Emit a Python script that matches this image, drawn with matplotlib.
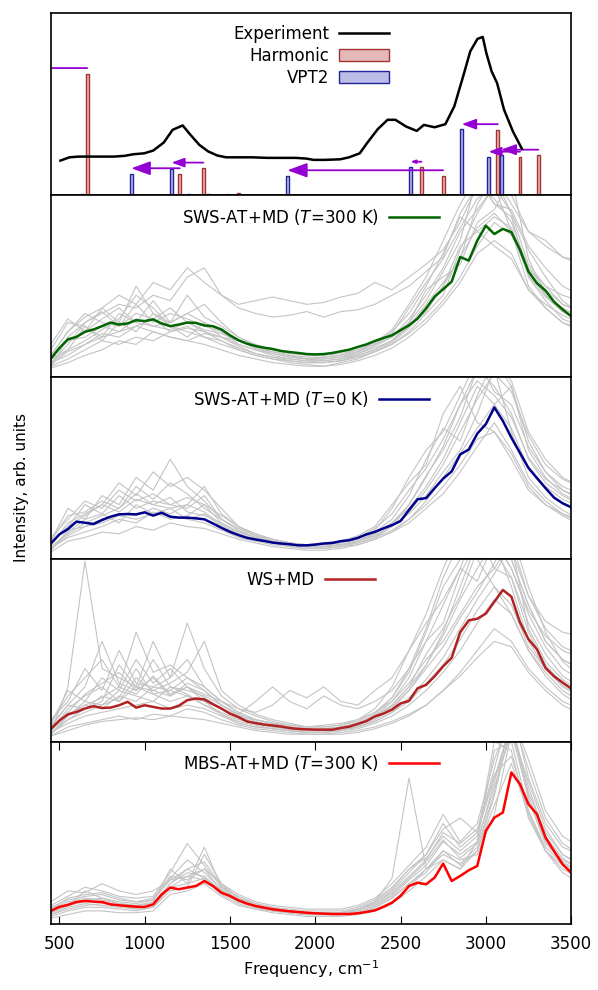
import matplotlib
matplotlib.use("Agg")
import matplotlib.pyplot as plt
from matplotlib.patches import FancyArrowPatch

plt.rcParams['font.size'] = 12

# frequency grids (cm-1)
freq_fine = list(range(450, 3501, 50))
freq_coarse = list(range(450, 3551, 100))

# experiment
exp_freq = [506, 559, 611, 663, 715, 768, 820, 882, 935, 997, 1050, 1112, 1164, 1223, 1269, 1321,
            1373, 1426, 1478, 1540, 1634, 1718, 1802, 1885, 1948, 1990, 2052, 2146, 2198, 2261,
            2303, 2366, 2424, 2470, 2533, 2595, 2637, 2700, 2763, 2815, 2867, 2909, 2951, 2982,
            3003, 3034, 3066, 3107, 3159, 3212]
exp_int = [.189, .207, .211, .211, .211, .211, .211, .215, .224, .229, .244, .288, .358, .382, .330, .275,
           .239, .217, .207, .207, .207, .204, .204, .204, .200, .193, .193, .196, .207, .229,
           .284, .361, .413, .413, .376, .352, .385, .372, .389, .486, .651, .789, .857, .868,
           .780, .679, .615, .468, .349, .253]

# harmonic and VPT2 sticks
harm_freq = [663, 1206, 1344, 1482, 1551, 2623, 2750, 3070, 3201, 3308]
harm_int = [.666, .116, .147, .004, .009, .152, .105, .358, .207, .218]
vpt2_freq = [634, 922, 1158, 1256, 1375, 2558, 1837, 2859, 3017, 3090]
vpt2_int = [.007, .116, .143, .007, .004, .152, .105, .360, .207, .218]

# shifts harmonic -> VPT2
shift_from = [663, 1206, 1344, 2623, 2750, 3070, 3201, 3308]
shift_to = [300, 922, 1158, 2558, 1837, 2859, 3017, 3090]
shift_int = [.666, .116, .147, .152, .105, .358, .207, .218]

# averaged spectra
sws300_mean = [.101, .160, .208, .221, .249, .262, .280, .300, .289, .295,
               .313, .308, .317, .295, .280, .289, .300, .298, .284, .280,
               .262, .230, .203, .184, .171, .162, .155, .144, .138, .133,
               .127, .125, .127, .133, .142, .151, .166, .180, .199, .215,
               .230, .258, .285, .322, .378, .442, .483, .525, .660, .640,
               .750, .832, .786, .814, .796, .700, .580, .516, .475, .414,
               .372, .335]
sws0_mean = [.087, .137, .166, .207, .201, .194, .216, .234, .247, .249,
             .247, .258, .240, .256, .234, .229, .229, .225, .220, .197,
             .173, .151, .133, .118, .109, .101, .092, .087, .083, .077,
             .077, .081, .087, .090, .100, .105, .118, .137, .151, .170,
             .188, .210, .271, .330, .336, .391, .443, .483, .576, .603,
             .690, .742, .834, .760, .668, .585, .502, .446, .391, .339,
             .308, .286]
ws_mean = [.069, .115, .149, .162, .181, .194, .184, .186, .199, .218,
           .186, .199, .190, .181, .181, .196, .227, .236, .231, .205,
           .181, .153, .134, .110, .101, .093, .088, .082, .074, .069,
           .067, .065, .065, .065, .074, .082, .097, .112, .138, .153,
           .175, .209, .223, .292, .311, .358, .413, .460, .600, .665,
           .674, .702, .767, .832, .795, .655, .562, .506, .404, .358,
           .324, .292]
mbs_mean = [.070, .092, .103, .119, .125, .121, .119, .106, .101, .097,
            .093, .092, .106, .161, .198, .189, .198, .207, .234, .207,
            .170, .152, .128, .110, .097, .088, .079, .073, .068, .064,
            .060, .057, .055, .053, .053, .053, .057, .064, .073, .092,
            .115, .152, .207, .225, .216, .253, .330, .234, .262, .293,
            .317, .509, .582, .610, .830, .766, .656, .601, .473, .399,
            .326, .280]

# individual spectra (grey)
sws300_runs = [
    [.12, .25, .33, .38, .45, .40, .52, .48, .60, .52, .45, .40, .42, .44, .42, .40, .41, .44, .46, .52, .48, .55, .62, .70, .85, 1.05, 1.1, .95, .80, .75, .66, .62],
    [.08, .18, .30, .35, .40, .38, .45, .42, .55, .60, .45, .38, .35, .33, .34, .36, .33, .36, .37, .40, .45, .50, .58, .66, .90, 1.05, .98, .85, .60, .50, .45, .42],
    [.05, .22, .30, .36, .28, .40, .30, .35, .32, .28, .25, .18, .15, .12, .10, .09, .08, .09, .12, .15, .20, .30, .42, .58, .75, 1.1, .95, .88, .55, .42, .32, .28],
    [.10, .15, .20, .26, .32, .45, .38, .28, .25, .22, .20, .15, .12, .10, .08, .07, .06, .08, .10, .14, .18, .25, .35, .45, .70, .90, 1.05, .80, .50, .38, .30, .25],
    [.15, .30, .28, .22, .35, .30, .42, .30, .35, .40, .30, .22, .18, .15, .13, .12, .12, .13, .15, .18, .22, .30, .48, .55, .62, .85, .92, 1.1, .65, .45, .36, .32],
    [.08, .12, .18, .22, .25, .28, .25, .22, .20, .24, .22, .18, .15, .13, .11, .10, .10, .11, .14, .18, .25, .35, .50, .68, .88, .80, .72, .65, .48, .40, .34, .30],
    [.12, .25, .35, .30, .28, .35, .32, .38, .30, .25, .22, .20, .16, .14, .12, .10, .09, .10, .13, .16, .20, .28, .40, .52, .65, .95, 1.1, .90, .70, .55, .42, .35],
    [.06, .10, .15, .20, .18, .22, .20, .25, .28, .22, .18, .15, .12, .10, .09, .08, .08, .09, .11, .14, .18, .24, .32, .42, .55, .72, .85, .78, .60, .48, .40, .36],
    [.18, .32, .25, .38, .30, .50, .35, .30, .45, .33, .28, .22, .17, .14, .12, .10, .11, .12, .15, .19, .26, .40, .55, .75, .95, 1.1, .95, .92, .72, .60, .50, .45],
    [.05, .08, .12, .15, .20, .18, .25, .22, .20, .18, .15, .12, .10, .08, .07, .06, .06, .07, .09, .12, .16, .22, .30, .40, .52, .68, .75, .68, .48, .38, .30, .27],
    [.10, .20, .22, .28, .25, .32, .28, .30, .35, .30, .25, .20, .17, .14, .12, .11, .11, .12, .14, .18, .24, .38, .52, .65, .82, .98, 1.05, 1.0, .80, .72, .66, .64],
    [.08, .15, .28, .20, .30, .25, .35, .28, .22, .30, .22, .17, .13, .11, .10, .09, .09, .10, .12, .15, .20, .28, .36, .50, .72, .80, .88, .82, .58, .45, .38, .33],
    [.12, .20, .25, .32, .38, .30, .28, .26, .30, .26, .24, .20, .16, .13, .11, .10, .10, .11, .13, .17, .22, .32, .45, .60, .80, .92, 1.05, .90, .62, .50, .40, .36],
    [.07, .14, .18, .24, .22, .28, .32, .25, .27, .25, .20, .16, .13, .11, .09, .08, .08, .09, .11, .14, .19, .27, .38, .50, .66, .82, .90, .80, .56, .44, .36, .31],
]
sws0_runs = [
    [.05, .15, .22, .35, .30, .45, .38, .55, .40, .32, .22, .16, .12, .09, .07, .06, .06, .07, .09, .12, .18, .30, .45, .62, .85, 1.05, .95, .80, .55, .42, .35, .30],
    [.08, .20, .25, .30, .42, .35, .48, .40, .45, .38, .28, .18, .13, .10, .08, .07, .07, .08, .10, .15, .22, .35, .55, .72, .65, .90, 1.1, .95, .65, .48, .38, .33],
    [.10, .28, .22, .25, .20, .30, .25, .28, .22, .25, .18, .14, .11, .09, .08, .07, .07, .08, .10, .14, .20, .28, .40, .55, .75, .95, .85, .72, .50, .40, .33, .29],
    [.06, .12, .15, .18, .22, .20, .26, .22, .24, .30, .20, .15, .12, .10, .08, .07, .07, .08, .10, .13, .18, .25, .35, .48, .60, .80, 1.05, .70, .45, .34, .27, .22],
    [.09, .18, .30, .25, .35, .28, .32, .30, .28, .35, .22, .17, .13, .11, .09, .08, .08, .09, .11, .16, .28, .45, .60, .70, .90, 1.1, .92, .85, .62, .48, .40, .36],
    [.04, .10, .12, .15, .14, .18, .16, .20, .18, .17, .14, .11, .09, .07, .06, .05, .05, .06, .08, .11, .15, .20, .28, .36, .48, .62, .75, .60, .42, .32, .25, .20],
    [.12, .22, .32, .28, .38, .32, .36, .30, .34, .30, .24, .18, .14, .11, .09, .08, .09, .10, .13, .18, .30, .42, .52, .80, .95, .75, .70, .55, .38, .30, .25, .22],
    [.07, .14, .20, .24, .28, .36, .30, .34, .26, .24, .20, .15, .12, .09, .08, .07, .07, .08, .10, .13, .18, .26, .38, .52, .70, .88, 1.02, .92, .68, .52, .44, .40],
    [.05, .16, .18, .22, .25, .24, .28, .25, .30, .26, .19, .14, .11, .09, .08, .07, .07, .08, .09, .12, .16, .22, .32, .45, .58, .72, .85, .95, .60, .45, .36, .31],
    [.10, .24, .26, .32, .28, .40, .33, .42, .36, .28, .22, .16, .12, .10, .08, .07, .07, .08, .10, .14, .20, .30, .46, .60, .78, 1.05, 1.1, .98, .70, .55, .45, .40],
    [.06, .13, .18, .20, .24, .22, .25, .24, .22, .20, .16, .12, .10, .08, .07, .06, .06, .07, .08, .11, .15, .22, .30, .40, .52, .66, .70, .58, .40, .30, .24, .19],
    [.08, .18, .24, .30, .26, .33, .30, .28, .30, .40, .25, .18, .14, .11, .09, .08, .08, .09, .12, .17, .25, .38, .50, .66, .85, .98, .90, .78, .56, .44, .38, .34],
]
ws_runs = [
    [.05, .30, .99, .40, .35, .30, .28, .25, .30, .22, .15, .10, .08, .07, .06, .05, .05, .06, .08, .12, .18, .28, .42, .60, .85, 1.1, 1.05, .90, .60, .42, .32, .26],
    [.10, .25, .35, .45, .30, .60, .38, .42, .35, .28, .20, .14, .10, .08, .07, .06, .06, .07, .09, .14, .22, .35, .55, .75, .95, 1.2, 1.1, .95, .70, .52, .40, .34],
    [.04, .12, .18, .22, .42, .30, .55, .35, .45, .30, .22, .16, .12, .10, .08, .07, .06, .07, .09, .13, .20, .30, .48, .62, .80, 1.05, 1.15, 1.0, .75, .55, .45, .40],
    [.08, .15, .20, .18, .25, .22, .30, .35, .65, .40, .25, .18, .14, .11, .09, .08, .08, .09, .12, .18, .30, .50, .65, .78, .95, .88, 1.1, .85, .55, .40, .30, .25],
    [.03, .08, .10, .12, .14, .12, .15, .14, .18, .16, .12, .09, .07, .06, .05, .04, .04, .05, .06, .08, .11, .15, .20, .28, .38, .50, .62, .55, .40, .30, .22, .18],
    [.06, .18, .25, .30, .22, .35, .28, .32, .38, .55, .28, .20, .15, .12, .10, .08, .08, .09, .11, .16, .24, .38, .60, .85, 1.0, 1.15, .95, 1.1, .80, .62, .52, .48],
    [.12, .22, .40, .28, .50, .32, .30, .28, .25, .22, .18, .14, .12, .10, .09, .08, .09, .10, .12, .16, .22, .32, .45, .55, .70, .85, .95, .90, .65, .48, .36, .30],
    [.05, .10, .14, .16, .18, .20, .22, .18, .20, .18, .14, .10, .08, .07, .06, .05, .05, .06, .07, .10, .14, .20, .28, .38, .50, .65, .78, .70, .50, .38, .28, .22],
    [.09, .20, .30, .55, .32, .28, .45, .30, .28, .25, .20, .15, .22, .30, .22, .18, .25, .20, .18, .22, .28, .40, .55, .65, .92, 1.1, 1.2, 1.05, .80, .66, .60, .58],
    [.04, .14, .22, .20, .28, .25, .22, .30, .26, .20, .16, .12, .10, .08, .07, .06, .06, .07, .08, .11, .16, .24, .34, .46, .62, .78, .92, 1.08, .62, .44, .34, .28],
    [.07, .16, .26, .32, .38, .28, .35, .25, .32, .28, .20, .15, .11, .09, .08, .07, .07, .08, .10, .15, .24, .40, .62, .90, 1.1, 1.0, .85, .70, .50, .36, .26, .20],
    [.10, .28, .22, .35, .28, .45, .32, .40, .30, .26, .22, .18, .16, .20, .28, .24, .30, .22, .20, .28, .35, .50, .70, .95, 1.15, 1.2, 1.1, 1.0, .75, .55, .45, .40],
    [.03, .06, .09, .11, .12, .13, .12, .14, .13, .12, .10, .08, .06, .05, .04, .04, .04, .04, .05, .07, .10, .14, .20, .28, .36, .46, .55, .52, .38, .28, .20, .15],
    [.08, .20, .18, .25, .22, .30, .26, .28, .35, .30, .22, .16, .12, .10, .08, .07, .07, .08, .10, .14, .20, .30, .42, .58, .78, .95, 1.1, .95, .72, .58, .50, .46],
    [.06, .14, .20, .24, .30, .26, .36, .26, .30, .24, .18, .13, .10, .08, .07, .06, .06, .07, .09, .13, .19, .28, .40, .52, .68, .82, .98, 1.15, .85, .60, .44, .36],
    [.05, .12, .16, .20, .24, .40, .26, .22, .25, .20, .15, .11, .09, .07, .06, .05, .05, .06, .08, .11, .16, .22, .32, .42, .56, .72, .85, .75, .52, .40, .31, .25],
]
mbs_runs = [
    [.08, .12, .14, .13, .11, .10, .12, .30, .22, .25, .18, .13, .10, .08, .07, .06, .06, .06, .08, .12, .25, .80, .30, .35, .30, .45, .75, 1.05, .70, .45, .35, .30],
    [.05, .08, .10, .11, .10, .09, .10, .22, .30, .25, .17, .12, .09, .07, .06, .05, .05, .05, .06, .09, .14, .22, .30, .40, .32, .40, .70, 1.1, .75, .48, .36, .30],
    [.10, .15, .20, .18, .15, .14, .15, .28, .44, .32, .20, .15, .11, .09, .08, .07, .07, .07, .09, .13, .20, .30, .38, .55, .42, .50, .85, 1.2, .80, .55, .42, .38],
    [.06, .10, .12, .12, .10, .08, .09, .18, .20, .38, .22, .14, .10, .08, .07, .06, .06, .06, .07, .10, .15, .24, .32, .45, .38, .45, .95, 1.0, .62, .40, .30, .25],
    [.03, .05, .07, .07, .06, .06, .07, .16, .18, .22, .15, .10, .08, .06, .05, .04, .04, .04, .05, .07, .11, .18, .26, .35, .30, .40, .65, .88, .60, .40, .28, .22],
    [.12, .18, .17, .22, .18, .16, .18, .24, .26, .30, .22, .16, .12, .10, .09, .08, .08, .08, .10, .14, .22, .32, .42, .60, .45, .55, .90, 1.15, .90, .62, .48, .42],
    [.07, .11, .13, .14, .12, .11, .13, .25, .35, .28, .19, .13, .10, .08, .07, .06, .06, .06, .08, .11, .18, .28, .38, .52, .58, .50, .80, 1.1, .68, .44, .34, .28],
    [.05, .09, .11, .10, .09, .08, .10, .20, .22, .42, .20, .13, .09, .07, .06, .05, .05, .05, .06, .09, .14, .22, .28, .40, .35, .38, .60, 1.05, .78, .52, .38, .32],
    [.08, .14, .16, .17, .14, .12, .14, .26, .24, .30, .18, .13, .10, .08, .07, .06, .06, .06, .08, .12, .19, .30, .36, .48, .40, .48, 1.0, .95, .58, .40, .32, .27],
    [.04, .07, .09, .09, .08, .07, .09, .20, .26, .24, .16, .11, .08, .07, .06, .05, .05, .05, .06, .08, .12, .20, .30, .38, .33, .42, .72, 1.15, .85, .58, .44, .38],
    [.09, .13, .15, .16, .13, .12, .13, .24, .30, .34, .21, .14, .11, .09, .07, .06, .06, .06, .08, .11, .17, .26, .35, .50, .44, .52, .82, .92, .62, .42, .33, .28],
    [.06, .10, .18, .14, .11, .10, .11, .22, .28, .26, .18, .12, .09, .08, .06, .05, .05, .05, .07, .10, .16, .25, .34, .46, .36, .44, .78, 1.1, .72, .50, .38, .33],
]

panels = [
    (r'SWS-AT+MD ($T$=300 K)', sws300_runs, sws300_mean, 'darkgreen'),
    (r'SWS-AT+MD ($T$=0 K)', sws0_runs, sws0_mean, '#00008b'),
    ('WS+MD', ws_runs, ws_mean, '#b22222'),
    (r'MBS-AT+MD ($T$=300 K)', mbs_runs, mbs_mean, 'red'),
]

fig, axes = plt.subplots(5, 1, figsize=(5.98, 9.9), dpi=100, sharex=True)
fig.subplots_adjust(left=0.085, right=0.955, top=0.987, bottom=0.067, hspace=0)

# top panel: experiment + sticks
ax = axes[0]
ax.plot(exp_freq, exp_int, color='black', lw=1.8, label='Experiment')
ax.bar(harm_freq, harm_int, width=16, color='#e2b8b8', edgecolor='#a83232', lw=1.0, label='Harmonic')
ax.bar(vpt2_freq, vpt2_int, width=16, color='#bcbce6', edgecolor='#22229a', lw=1.0, label='VPT2')
for f0, f1, h in zip(shift_from, shift_to, shift_int):
    length_pt = abs(f0 - f1) * 0.1706 * 0.72
    head = min(0.33 * length_pt, 12)
    arr = FancyArrowPatch((f0, h + 0.031), (f1, h + 0.031),
                          arrowstyle='-|>,head_length=0.6,head_width=0.22',
                          mutation_scale=head / 0.6, color='#9400d3', lw=1.3,
                          shrinkA=0, shrinkB=0)
    ax.add_patch(arr)
ax.set_ylim(0, 1)
ax.legend(loc='upper center', bbox_to_anchor=(0.5, 1.0), frameon=False, markerfirst=False,
          handlelength=3.0, labelspacing=0.25, borderaxespad=0.3, handletextpad=0.6)

for ax, (label, runs, mean, col) in zip(axes[1:], panels):
    for r in runs:
        ax.plot(freq_coarse, r, color='#c4c4c4', lw=0.8)
    ax.plot(freq_fine, mean, color=col, lw=1.8, label=label)
    ax.set_ylim(0, 1)
    ax.legend(loc='upper center', bbox_to_anchor=(0.5, 1.0), frameon=False, markerfirst=False,
              handlelength=3.0, borderaxespad=0.3, handletextpad=0.6)

for ax in axes:
    ax.set_yticks([])
    ax.tick_params(axis='x', which='both', bottom=False, top=False, labelbottom=False)
    for s in ax.spines.values():
        s.set_linewidth(1.2)

axes[-1].set_xlim(450, 3500)
axes[-1].set_xticks([500, 1000, 1500, 2000, 2500, 3000, 3500])
axes[-1].tick_params(axis='x', direction='in', bottom=True, top=True, labelbottom=True,
                     length=6, labelsize=12, pad=8)
axes[-1].set_xlabel('Frequency, cm$^{-1}$', fontsize=11.5)
fig.text(0.036, 0.508, 'Intensity, arb. units', rotation=90, ha='center', va='center', fontsize=11)

fig.savefig('out.png', dpi=100)
